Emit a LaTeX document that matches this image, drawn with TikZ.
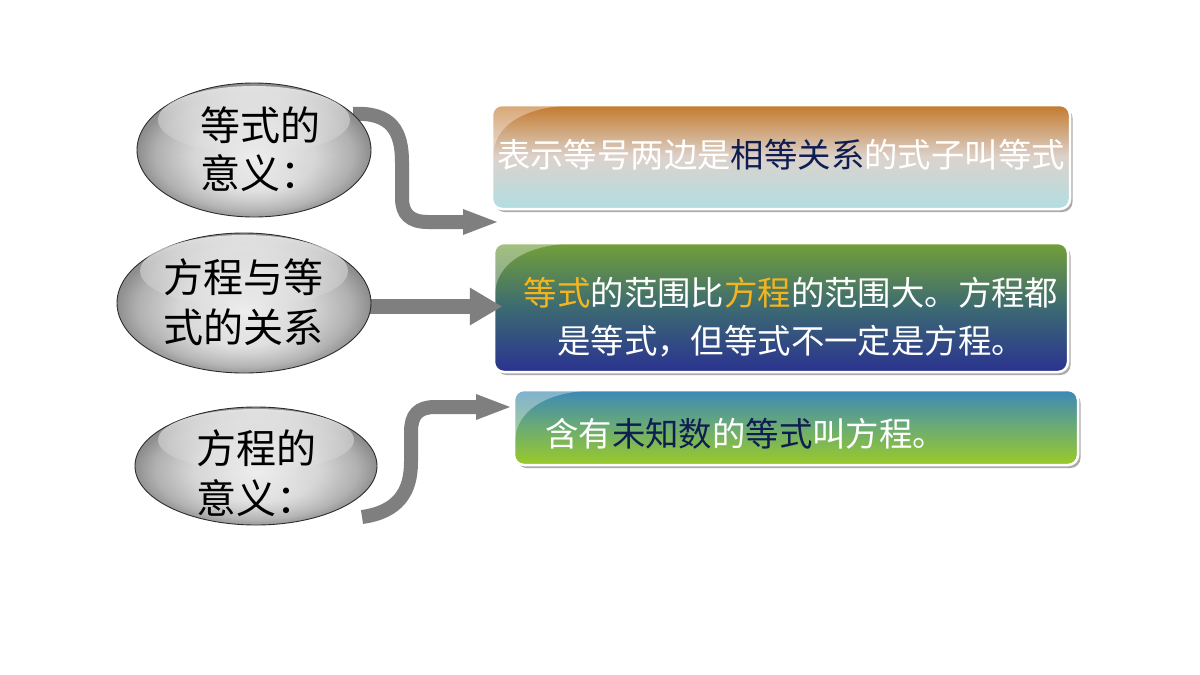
\documentclass[tikz,border=0pt]{standalone}
\usepackage{fontspec}
\newfontfamily\cjk{Noto Sans CJK SC}
\usetikzlibrary{shapes.geometric,arrows.meta,shadows,fadings,calc}
\definecolor{arrgray}{HTML}{7F7F7F}
\definecolor{navy}{HTML}{0E1E50}
\definecolor{gold}{HTML}{F4B41E}
\definecolor{b1top}{HTML}{C47A2C}
\definecolor{b1mid}{HTML}{DCD2CC}
\definecolor{b1bot}{HTML}{B2DEE2}
\definecolor{b2top}{HTML}{73A038}
\definecolor{b2mid}{HTML}{3C6A72}
\definecolor{b2bot}{HTML}{2A3290}
\definecolor{b3top}{HTML}{3C88B8}
\definecolor{b3mid}{HTML}{6CAC72}
\definecolor{b3bot}{HTML}{9ACA28}
\definecolor{ballA}{HTML}{EEEEEE}
\definecolor{ballB}{HTML}{D6D6D6}
\definecolor{ballC}{HTML}{B0B0B0}
\definecolor{ballD}{HTML}{8E8E8E}
\pgfdeclareradialshading{ballshade}{\pgfpoint{0bp}{-3bp}}{color(0bp)=(ballA); color(13bp)=(ballB); color(21bp)=(ballC); color(25bp)=(ballD); color(50bp)=(ballD)}
\tikzfading[name=hlfade, inner color=transparent!0, outer color=transparent!100]
\pgfdeclarelayer{bg}
\pgfdeclarelayer{back}
\pgfsetlayers{bg,back,main}
\tikzset{
  ball/.style={ellipse, draw=gray!35!black, line width=0.9pt, inner sep=0pt, shading=ballshade},
  gbox/.style={rectangle, rounded corners=10pt, draw=white, line width=2.5pt, inner sep=0pt,
    drop shadow={shadow xshift=2.5pt, shadow yshift=-3pt, opacity=0.55, fill=black!60},
    path picture={
      \fill[white, opacity=0.35] (path picture bounding box.north west)
        -- ([xshift=82pt]path picture bounding box.north west)
        .. controls ([shift={(28pt,-4pt)}]path picture bounding box.north west)
        and ([shift={(4pt,-22pt)}]path picture bounding box.north west)
        .. ([yshift=-58pt]path picture bounding box.north west) -- cycle;}},
  arr/.style={draw=arrgray, line width=14pt,
    -{Triangle[length=34pt,width=26pt,line width=0pt]}},
  etext/.style={font=\cjk\fontsize{40}{50}\selectfont, align=left, inner sep=0pt, text=black},
  btext/.style={font=\cjk\fontsize{33.4}{48}\selectfont, text=white, inner sep=0pt},
  hltop/.style={white, opacity=.75, path fading=south},
  hlbot/.style={white, opacity=.3, path fading=hlfade}
}
\begin{document}
\begin{tikzpicture}[x=1pt,y=-1pt]
\useasboundingbox (0,0) rectangle (1200,675);
\begin{pgfonlayer}{bg}
\fill[white] (0,0) rectangle (1200,675);
\end{pgfonlayer}

% ellipses
\node[ball, minimum width=234pt, minimum height=134pt] (e1) at (254,150) {};
\node[ball, minimum width=254pt, minimum height=140pt] (e2) at (244,303) {};
\node[ball, minimum width=242pt, minimum height=118pt] (e3) at (256,466) {};

\fill[hltop] ($(e1.center)+(0,-30)$) ellipse [x radius=96, y radius=34];
\fill[hltop] ($(e2.center)+(0,-32)$) ellipse [x radius=104, y radius=36];
\fill[hltop] ($(e3.center)+(0,-26)$) ellipse [x radius=98, y radius=31];
\fill[hlbot] ($(e1.center)+(0,38)$) ellipse [x radius=80, y radius=26];
\fill[hlbot] ($(e2.center)+(0,40)$) ellipse [x radius=86, y radius=27];
\fill[hlbot] ($(e3.center)+(0,33)$) ellipse [x radius=82, y radius=23];

% boxes
\begin{pgfonlayer}{back}
\node[gbox, minimum width=578pt, minimum height=104pt, top color=b1top, bottom color=b1bot, middle color=b1mid] (b1) at (781,157) {};
\node[gbox, minimum width=574pt, minimum height=129pt, top color=b2top, bottom color=b2bot, middle color=b2mid] (b2) at (781,307.5) {};
\node[gbox, minimum width=564pt, minimum height=75pt, top color=b3top, bottom color=b3bot, middle color=b3mid] (b3) at (796,427.5) {};

% arrows
\coordinate (a1end) at (497,222);
\coordinate (a3start) at (362,517);
\coordinate (a3end) at (510,407);
\draw[arr] (e1.20) .. controls (392,112) and (402,132) .. (402,162) -- (402,198)
  .. controls (402,214) and (410,222) .. (428,222) -- (a1end);
\draw[draw=arrgray, line width=15pt, -{Triangle[length=32pt,width=38pt,line width=0pt]}]
  ([xshift=-4pt,yshift=-3.5pt]e2.east) -- ([xshift=9pt,yshift=1pt]b2.west);
\draw[arr] (a3start) .. controls (398,512) and (411,492) .. (411,462) -- (411,432)
  .. controls (411,415) and (418,407) .. (435,407) -- (a3end);
\end{pgfonlayer}

% texts
\node[etext, anchor=west, font=\cjk\fontsize{40}{48}\selectfont] (t1) at (200,149) {等式的\\意义：};
\node[etext, anchor=west] (t2) at (163,302) {方程与等\\式的关系};
\node[etext, anchor=west] (t3) at (196,473) {方程的\\意义：};

\node[btext] (t4) at (781,155) {表示等号两边是{\color{navy}相等关系}的式子叫等式};
\node[btext, align=center] (t5) at (791,317) {{\color{gold}等式}的范围比{\color{gold}方程}的范围大。方程都\\是等式，但等式不一定是方程。};
\node[btext, anchor=west] (t6) at (545,434) {含有{\color{navy}未知数}的{\color{navy}等式}叫方程。};
\end{tikzpicture}
\end{document}
